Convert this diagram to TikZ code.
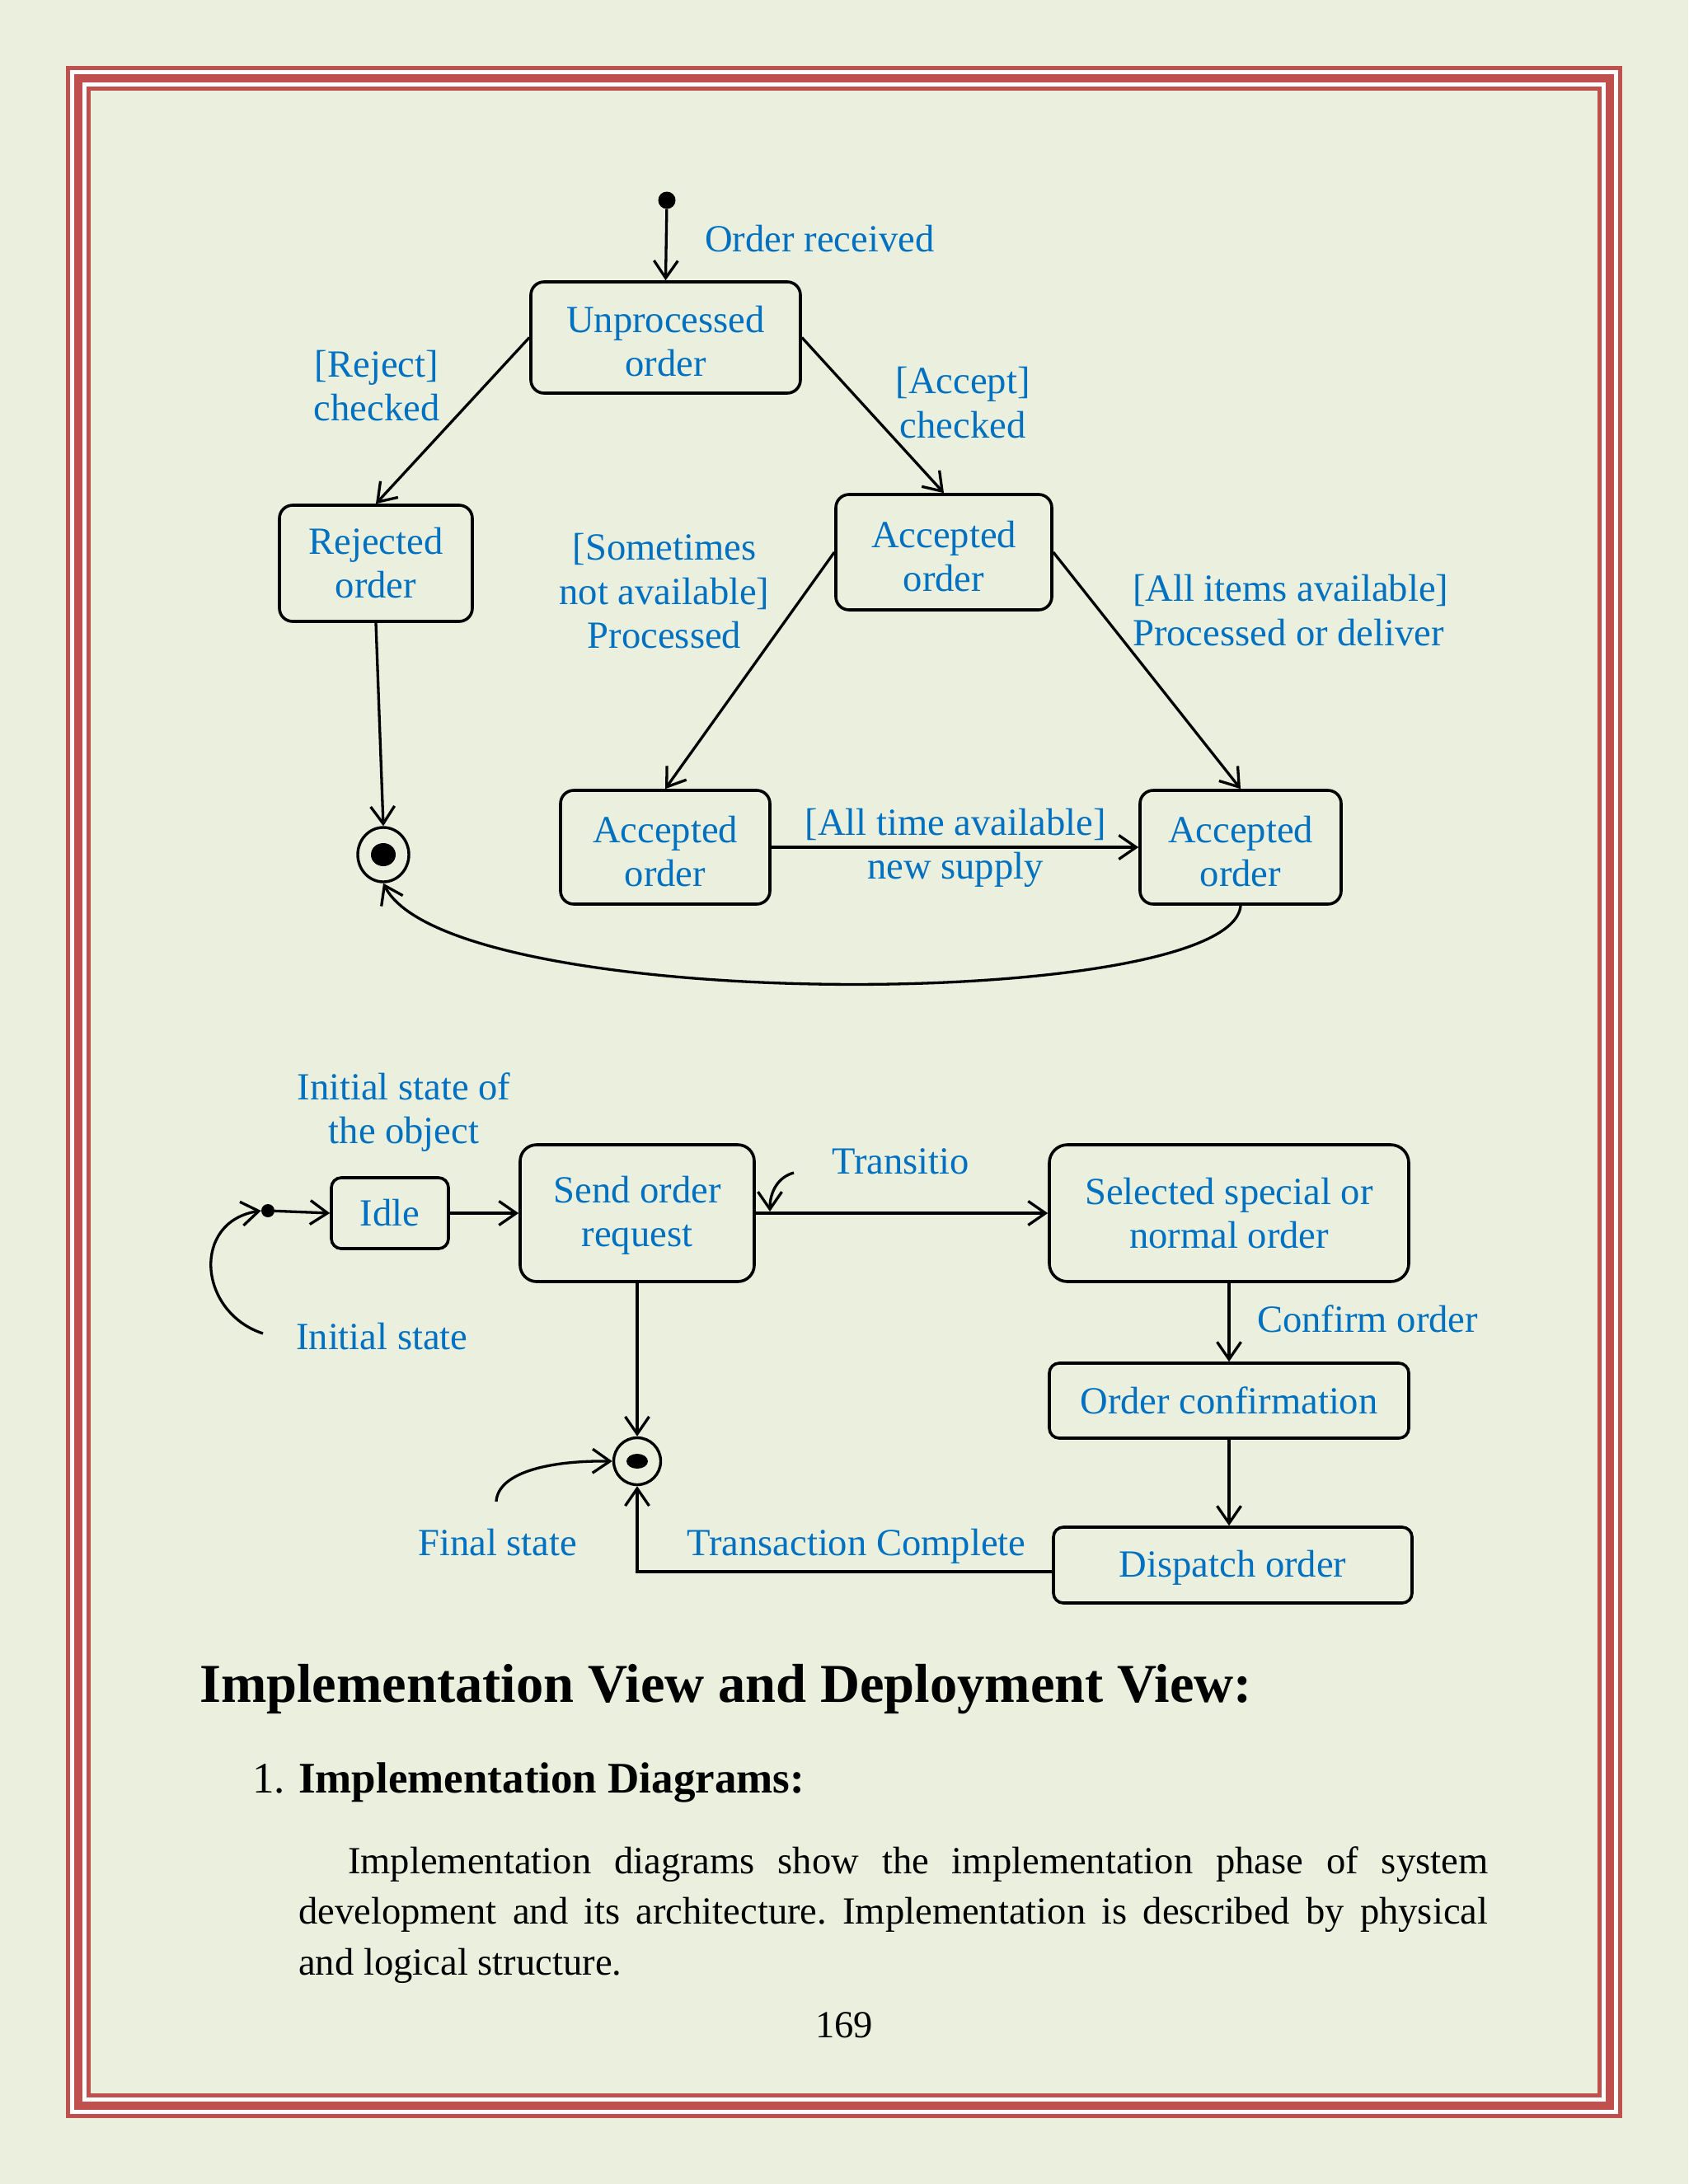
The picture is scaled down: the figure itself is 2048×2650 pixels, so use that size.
\documentclass[tikz,border=0pt]{standalone}
\usepackage{fontspec}
\setmainfont{Liberation Serif}
\usetikzlibrary{arrows.meta,shapes.geometric}
\definecolor{bg}{RGB}{234,240,221}
\definecolor{framered}{RGB}{192,80,77}
\definecolor{txtblue}{RGB}{0,112,192}
\newcommand\dfont{\fontsize{46.6}{53}\selectfont}
\newcommand\tstrut{\rule{0pt}{42pt}}
\frenchspacing
\begin{document}
\begin{tikzpicture}[x=1pt,y=-1pt,
  >={Straight Barb[length=21pt,width=29pt]},
  state/.style={draw, line width=3.6pt, rounded corners=16pt, text=txtblue, align=center, font=\dfont, inner sep=0pt},
  lbl/.style={text=txtblue, font=\dfont, inner sep=0pt, align=center},
  conn/.style={line width=3.3pt, ->},
  body/.style={text=black, font=\dfont, inner sep=0pt, anchor=base west},
]
\fill[bg] (0,0) rectangle (2048,2650);
\useasboundingbox (0,0) rectangle (2048,2650);
% frame
\draw[white, line width=30pt] (95,95) rectangle (1953,2555);
\draw[framered, line width=5pt] (82.5,82.5) rectangle (1965.5,2567.5);
\draw[framered, line width=10pt] (95,95) rectangle (1953,2555);
\draw[framered, line width=5pt] (107.5,107.5) rectangle (1940.5,2542.5);

% ---------- upper diagram ----------
\node[circle, fill=black, minimum size=21pt, inner sep=0pt] (init1) at (809,243) {};
\node[state, minimum width=327pt, minimum height=135pt] (unproc) at (807.5,409.5) {\tstrut Unprocessed\\order};
\node[state, minimum width=234pt, minimum height=141pt] (rejected) at (456,683.5) {Rejected\\order};
\node[state, minimum width=262pt, minimum height=140pt] (acc1) at (1145,670) {\tstrut Accepted\\order};
\node[state, minimum width=254pt, minimum height=138pt] (acc2) at (807,1028) {\tstrut Accepted\\order};
\node[state, minimum width=244pt, minimum height=138pt] (acc3) at (1505,1028) {\tstrut Accepted\\order};
\node[ellipse, draw, line width=3.4pt, minimum width=62pt, minimum height=66pt, inner sep=0pt] (final1) at (465,1037) {};
\fill (final1.center) ellipse [x radius=15pt, y radius=14pt];

\draw[conn] (init1) -- (unproc.north);
\draw[conn] (unproc.west) -- (rejected.north);
\draw[conn] (unproc.east) -- (acc1.north);
\draw[conn] (acc1.west) -- (acc2.north);
\draw[conn] (acc1.east) -- (acc3.north);
\draw[conn] (acc2.east) -- (acc3.west);
\draw[conn] (rejected.south) -- (final1.north);
\draw[conn] (acc3.south) .. controls (1495,1228) and (545,1232) .. (final1.south);

\node[lbl, anchor=base west] (lorder) at (855,305) {Order received};
\node[lbl] (lreject) at (457,468) {[Reject]\\checked};
\node[lbl, font={\fontsize{46.6}{54}\selectfont}] (laccept) at (1168,489) {[Accept]\\checked};
\node[lbl, font={\fontsize{46.6}{53.5}\selectfont}] (lsome) at (806,717.5) {[Sometimes\\not available]\\Processed};
\node[lbl, align=left, anchor=west, font={\fontsize{46.6}{54}\selectfont}] (lall) at (1374,741) {[All items available]\\Processed or deliver};
\node[lbl, anchor=base] (ltime) at (1159,1013) {[All time available]};
\node[lbl, anchor=base] (lsupply) at (1159,1066) {new supply};

% ---------- lower diagram ----------
\node[circle, fill=black, minimum size=16pt, inner sep=0pt] (init2) at (325,1469) {};
\node[state, rounded corners=12pt, minimum width=142pt, minimum height=86pt] (idle) at (473,1472) {Idle};
\node[state, rounded corners=20pt, minimum width=284pt, minimum height=166pt] (send) at (773,1472) {\rule{0pt}{38pt}Send order\\request};
\node[state, rounded corners=22pt, minimum width=436pt, minimum height=166pt] (selected) at (1491,1472) {Selected special or\\normal order};
\node[state, rounded corners=12pt, minimum width=436pt, minimum height=91pt] (confirm) at (1491,1699.5) {Order confirmation};
\node[state, rounded corners=12pt, minimum width=435pt, minimum height=92pt] (dispatch) at (1495.5,1899) {\rule{0pt}{38pt}Dispatch order};
\node[circle, draw, line width=3.4pt, minimum size=57pt, inner sep=0pt] (final2) at (773,1773) {};
\fill (final2.center) ellipse [x radius=13pt, y radius=9pt];

\draw[conn] (init2) -- (idle.west);
\draw[conn] (idle.east) -- (send.west);
\draw[conn] (send.east) -- (selected.west);
\draw[conn] (selected.south) -- (confirm.north);
\draw[conn] (confirm.south) -- (confirm.south |- dispatch.north);
\draw[conn] (send.south) -- (final2.north);
\draw[conn] ([yshift=-8pt]dispatch.west) -| (final2.south);

\coordinate (isp) at (319,1618);
\draw[conn] (isp) .. controls (240,1592) and (232,1482) .. (init2.west);
\coordinate (fsp) at (602,1822);
\draw[conn] (fsp) .. controls (604,1788) and (662,1772) .. (final2.west);
\coordinate (tsp) at (963,1423);
\coordinate (tsend) at (934,1470);
\draw[conn] (tsp) .. controls (944,1428) and (934,1446) .. (tsend);

\node[lbl] (lobj) at (490,1349.5) {Initial state of\\the object};
\node[lbl, anchor=base west] (linit) at (359,1637) {Initial state};
\node[lbl, anchor=base west] (ltrans) at (1009,1424) {Transitio};
\node[lbl, anchor=base west] (lconf) at (1525,1616) {Confirm order};
\node[lbl, anchor=base west] (lfinal) at (507,1887) {Final state};
\node[lbl, anchor=base west] (lcomplete) at (833,1887) {Transaction Complete};

% ---------- text ----------
\node[body, font={\fontsize{66.5}{80}\selectfont\bfseries}] (head) at (242,2065) {Implementation View and Deployment View:};
\node[body, font={\fontsize{53}{64}\selectfont\bfseries}] (sub) at (306,2175) {\makebox[56pt][l]{\mdseries 1.}Implementation Diagrams:};
\node[body] (para1) at (422,2273) {\makebox[1383pt][s]{Implementation diagrams show the implementation phase of system}};
\node[body] (para2) at (362,2334) {\makebox[1443pt][s]{development and its architecture. Implementation is described by physical}};
\node[body] (para3) at (362,2396) {and logical structure.};
\node[text=black, font=\dfont, inner sep=0pt, anchor=base] (pagenum) at (1024,2472) {169};
\end{tikzpicture}
\end{document}
